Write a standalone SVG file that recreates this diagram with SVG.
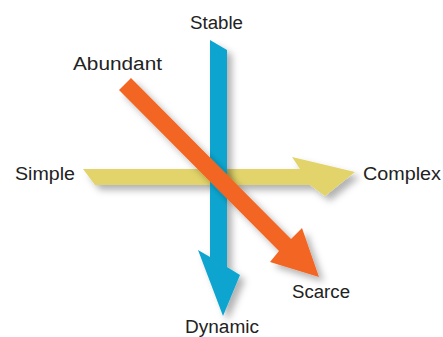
<svg xmlns="http://www.w3.org/2000/svg" width="443" height="337" viewBox="0 0 443 337">
<defs>
<filter id="sh" x="-20%" y="-20%" width="150%" height="150%">
<feDropShadow dx="5" dy="5" stdDeviation="3.5" flood-color="#000" flood-opacity="0.3"/>
</filter>
<style>
text{font-family:"Liberation Sans",Arial,sans-serif;font-size:18px;fill:#222}
</style>
</defs>
<rect width="443" height="337" fill="#fff"/>
<g id="connectors">
<g id="yellow-arrow"><polygon filter="url(#sh)" fill="#e2d46b" points="83,169 300,169 292,157 355,172 325,196 310,185 95,185"/></g>
<g id="blue-arrow"><polygon filter="url(#sh)" fill="#0ea5cf" points="210,40 227,50 227,267 240,275 223,316 198,250 210,257"/></g>
<g id="orange-arrow"><polygon filter="url(#sh)" fill="#f26522" points="119,90 131,78 291,239 302,228 319,277 270,262 279,251"/></g>
</g>
<g id="stable"><text x="190" y="29" textLength="53" lengthAdjust="spacingAndGlyphs">Stable</text></g>
<g id="abundant"><text x="73" y="70" textLength="89" lengthAdjust="spacingAndGlyphs">Abundant</text></g>
<g id="simple"><text x="15" y="180" textLength="60" lengthAdjust="spacingAndGlyphs">Simple</text></g>
<g id="complex"><text x="363" y="180" textLength="78" lengthAdjust="spacingAndGlyphs">Complex</text></g>
<g id="scarce"><text x="292" y="298" textLength="58" lengthAdjust="spacingAndGlyphs">Scarce</text></g>
<g id="dynamic"><text x="185" y="333" textLength="74" lengthAdjust="spacingAndGlyphs">Dynamic</text></g>
</svg>
